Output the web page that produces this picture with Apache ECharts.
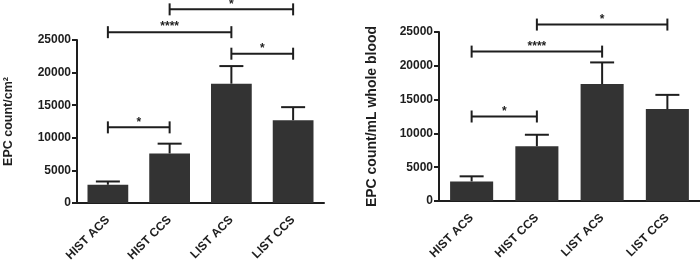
<!DOCTYPE html>
<html>
<head>
<meta charset="utf-8">
<script src="https://cdn.jsdelivr.net/npm/echarts@6/dist/echarts.min.js"></script>
<style>
  html, body { margin: 0; padding: 0; background: #fff; }
  #chart { width: 700px; height: 261px; }
</style>
</head>
<body>
<div id="chart"></div>
<script>
const categories = ["HIST ACS", "HIST CCS", "LIST ACS", "LIST CCS"];

// EPC count/cm2
const areaMeans = [2800, 7600, 18300, 12700];
const areaErrTop = [3300, 9100, 21000, 14700];
// [from, to, y, label]
const areaSig = [
    [0, 1, 11600, "*"],
    [0, 2, 26200, "****"],
    [2, 3, 22900, "*"],
    [1, 3, 29700, "*"]
];

// EPC count/mL whole blood
const bloodMeans = [2900, 8100, 17300, 13600];
const bloodErrTop = [3650, 9800, 20500, 15700];
const bloodSig = [
    [0, 1, 12500, "*"],
    [0, 2, 22100, "****"],
    [1, 3, 26100, "*"]
];

const yTicks = { min: 0, max: 25000, interval: 5000 };

const ink = "#1e1e1e";
const barColor = "#333333";
const font = "Liberation Sans";

function errorRender(params, api) {
    const top = api.coord([api.value(0), api.value(1)]);
    const base = api.coord([api.value(0), api.value(2)]);
    const half = 12;
    const style = { stroke: ink, lineWidth: 2 };
    return {
        type: "group",
        children: [
            { type: "line", shape: { x1: base[0], y1: base[1], x2: top[0], y2: top[1] }, style },
            { type: "line", shape: { x1: top[0] - half, y1: top[1], x2: top[0] + half, y2: top[1] }, style }
        ]
    };
}

function sigRender(params, api) {
    const a = api.coord([api.value(0), api.value(2)]);
    const b = api.coord([api.value(1), api.value(2)]);
    const cap = 6;
    const style = { stroke: ink, lineWidth: 2 };
    return {
        type: "group",
        children: [
            { type: "line", shape: { x1: a[0], y1: a[1], x2: b[0], y2: b[1] }, style },
            { type: "line", shape: { x1: a[0], y1: a[1] - cap, x2: a[0], y2: a[1] + cap }, style },
            { type: "line", shape: { x1: b[0], y1: b[1] - cap, x2: b[0], y2: b[1] + cap }, style },
            {
                type: "text",
                style: {
                    x: (a[0] + b[0]) / 2, y: a[1] - 11,
                    text: api.value(3), align: "center", verticalAlign: "top",
                    fill: ink, font: "bold 12px " + font
                }
            }
        ]
    };
}

function xAxisFor(gridIndex) {
    return {
        type: "category",
        gridIndex,
        data: categories,
        axisLine: { lineStyle: { color: ink, width: 2 } },
        axisTick: { alignWithLabel: true, length: 5, lineStyle: { color: ink, width: 2 } },
        axisLabel: { rotate: 45, margin: 15, color: ink, fontWeight: "bold", fontSize: 12, fontFamily: font }
    };
}

function yAxisFor(gridIndex, name, gap, nameSize) {
    return {
        type: "value",
        gridIndex,
        ...yTicks,
        name,
        nameLocation: "middle",
        nameGap: gap,
        nameTextStyle: { color: ink, fontWeight: "bold", fontSize: nameSize, fontFamily: font },
        splitLine: { show: false },
        axisLine: { show: true, lineStyle: { color: ink, width: 2 } },
        axisTick: { show: true, length: 5, lineStyle: { color: ink, width: 2 } },
        axisLabel: {
            margin: 6, color: ink, fontWeight: "bold", fontSize: 12, fontFamily: font,
            formatter: (v) => String(v)
        }
    };
}

function seriesFor(idx, means, errTop, sig) {
    return [
        {
            type: "bar",
            xAxisIndex: idx, yAxisIndex: idx,
            data: means,
            barWidth: "66%",
            itemStyle: { color: barColor },
            z: 2
        },
        {
            type: "custom",
            xAxisIndex: idx, yAxisIndex: idx,
            clip: false,
            renderItem: errorRender,
            data: categories.map((c, i) => [i, errTop[i], means[i]]),
            z: 3
        },
        {
            type: "custom",
            xAxisIndex: idx, yAxisIndex: idx,
            clip: false,
            renderItem: sigRender,
            data: sig,
            z: 4
        }
    ];
}

const chart = echarts.init(document.getElementById("chart"), null, { renderer: "canvas" });
chart.setOption({
    animation: false,
    backgroundColor: "#fff",
    grid: [
        { left: 77, top: 40, width: 247, height: 163, outerBoundsMode: "none" },
        { left: 439, top: 32, width: 261, height: 169, outerBoundsMode: "none" }
    ],
    xAxis: [xAxisFor(0), xAxisFor(1)],
    yAxis: [
        yAxisFor(0, "EPC count/cm²", 62, 12.5),
        yAxisFor(1, "EPC count/mL whole blood", 60, 14)
    ],
    series: [
        ...seriesFor(0, areaMeans, areaErrTop, areaSig),
        ...seriesFor(1, bloodMeans, bloodErrTop, bloodSig)
    ]
});
</script>
</body>
</html>
